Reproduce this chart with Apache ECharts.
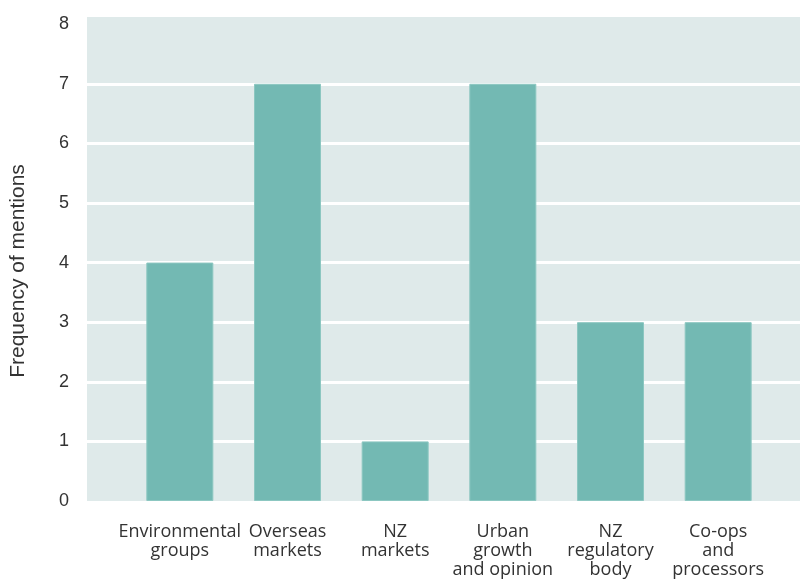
<!DOCTYPE html>
<html>
<head>
<meta charset="utf-8">
<script src="https://cdn.jsdelivr.net/npm/echarts@6/dist/echarts.min.js"></script>
<style>
  html, body { margin: 0; padding: 0; background: #ffffff; }
  #chart { width: 800px; height: 581px; }
</style>
</head>
<body>
<div id="chart"></div>
<script>
// Sources of pressure named by respondents
const categories = [
  'Environmental\ngroups',
  'Overseas\nmarkets',
  'NZ\nmarkets',
  'Urban\ngrowth\nand opinion',
  'NZ\nregulatory\nbody',
  'Co-ops\nand\nprocessors'
];
const mentions = [4, 7, 1, 7, 3, 3];
const yTicks = [0, 1, 2, 3, 4, 5, 6, 7, 8];

const yMax = 8.12;
const panelColor = '#dfeaea';
const barColor = '#73b9b3';
const textColor = '#333333';

const chart = echarts.init(document.getElementById('chart'));

// Gridlines only between 1 and 7; none at the bottom edge or at 8
const gridLineColors = yTicks.map(v => (v >= 1 && v <= 7) ? '#ffffff' : 'rgba(0,0,0,0)');

chart.setOption({
  animation: false,
  grid: [
    // Full-width panel carrying the value axis and gridlines
    { left: 86, right: 0, top: 17, bottom: 80, show: true, backgroundColor: panelColor, borderWidth: 0 },
    // Inner band where the categories sit
    { left: 126, right: 28, top: 17, bottom: 80 }
  ],
  xAxis: [
    { gridIndex: 0, type: 'value', show: false, min: 0, max: 1 },
    {
      gridIndex: 1,
      type: 'category',
      data: categories,
      axisLine: { show: false },
      axisTick: { show: false },
      axisLabel: {
        interval: 0,
        margin: 21,
        color: textColor,
        fontFamily: 'Open Sans',
        fontSize: 18,
        lineHeight: 19
      }
    }
  ],
  yAxis: [
    {
      gridIndex: 0,
      type: 'value',
      min: 0,
      max: yMax,
      interval: 1,
      name: 'Frequency of mentions',
      nameLocation: 'middle',
      nameGap: 58,
      nameTextStyle: {
        color: textColor,
        fontFamily: 'Liberation Sans',
        fontSize: 21,
        padding: [0, 24, 0, 0]
      },
      axisLine: { show: false },
      axisTick: { show: false },
      axisLabel: {
        margin: 18,
        color: textColor,
        fontFamily: 'Liberation Sans',
        fontSize: 18,
        showMaxLabel: false,
        formatter: v => (Number.isInteger(v) ? String(v) : '')
      },
      splitLine: { show: true, lineStyle: { color: gridLineColors, width: 3 } }
    },
    { gridIndex: 1, type: 'value', min: 0, max: yMax, show: false, splitLine: { show: false } }
  ],
  series: [
    {
      type: 'bar',
      xAxisIndex: 1,
      yAxisIndex: 1,
      data: mentions,
      barWidth: 67,
      itemStyle: { color: barColor, borderColor: '#8cc7c1', borderWidth: 1 }
    }
  ]
});
</script>
</body>
</html>
